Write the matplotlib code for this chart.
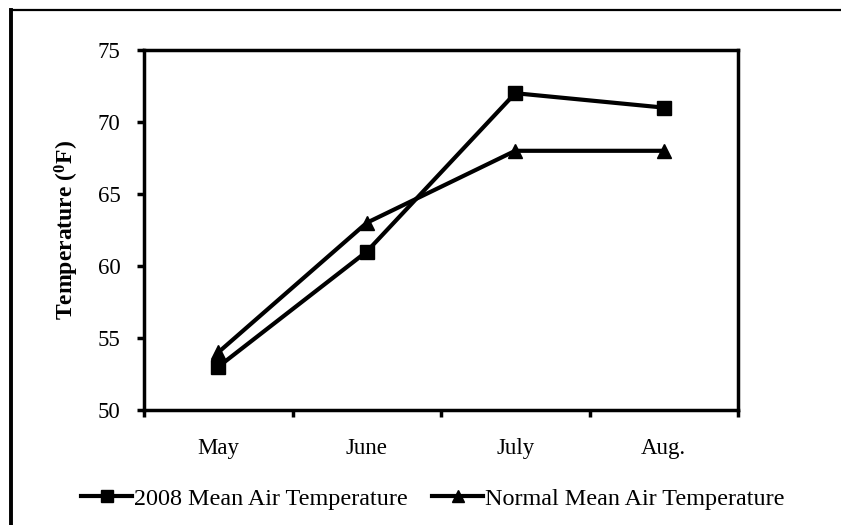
import matplotlib
matplotlib.use("Agg")
import matplotlib.pyplot as plt
from matplotlib.lines import Line2D

plt.rcParams['font.family'] = ['Liberation Serif', 'DejaVu Serif']
plt.rcParams['mathtext.fontset'] = 'custom'
plt.rcParams['mathtext.rm'] = 'Liberation Serif'
plt.rcParams['mathtext.bf'] = 'Liberation Serif:bold'

months = ['May', 'June', 'July', 'Aug.']
temp_2008 = [53, 61, 72, 71]
temp_normal = [54, 63, 68, 68]
y_ticks = [50, 55, 60, 65, 70, 75]

fig = plt.figure(figsize=(8.41, 5.25), dpi=100)
ax = fig.add_axes([144/841, 1-410/525, (738-144)/841, (410-50)/525])

x = list(range(len(months)))
ax.plot(x, temp_2008, color='black', lw=3, marker='s', ms=10, label='2008 Mean Air Temperature')
ax.plot(x, temp_normal, color='black', lw=3, marker='^', ms=10, label='Normal Mean Air Temperature')

ax.set_xlim(-0.5, len(months)-0.5)
ax.set_ylim(50, 75)
ax.set_yticks(y_ticks)
ax.set_xticks(x)
ax.set_xticklabels(months)
ax.set_xticks([i-0.5 for i in range(len(months)+1)], minor=True)
ax.tick_params(axis='x', which='major', length=0, pad=20, labelsize=16.5)
ax.tick_params(axis='x', which='minor', length=5, width=2.5, direction='out')
ax.tick_params(axis='y', length=5, width=2.5, direction='out', labelsize=16.5, pad=12)
for s in ax.spines.values():
    s.set_linewidth(2.5)

ax.set_ylabel(r'Temperature ($\mathbf{^0}$F)', fontsize=17, fontweight='bold', labelpad=12)

fig.legend(loc='lower center', bbox_to_anchor=(0.515, -0.012), ncol=2, frameon=False,
           fontsize=17.4, handlelength=2.1, columnspacing=1.0, handletextpad=0.1, markerscale=0.8)

# outer frame
fig.add_artist(Line2D([11/841, 11/841], [1-10/525, -0.1], transform=fig.transFigure, color='black', lw=2.8))
fig.add_artist(Line2D([11/841, 1.1], [1-10/525, 1-10/525], transform=fig.transFigure, color='black', lw=1.6))

fig.savefig('out.png', dpi=100)
